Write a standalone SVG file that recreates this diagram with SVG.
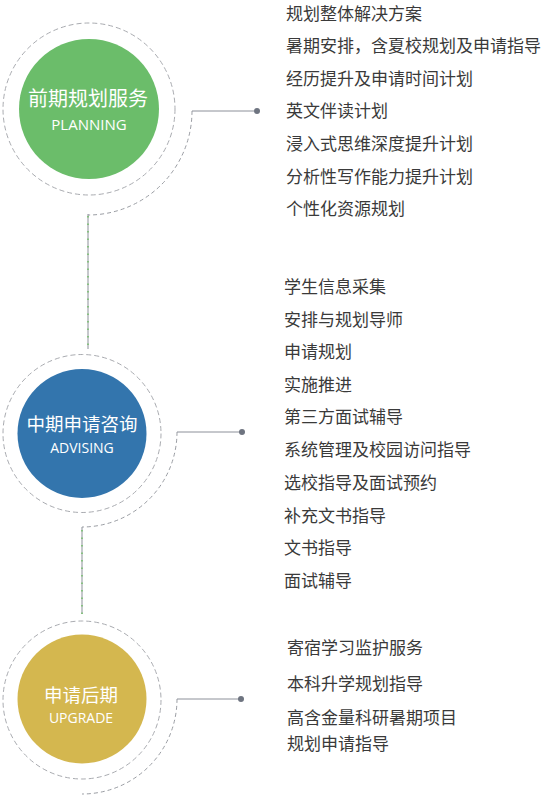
<svg xmlns="http://www.w3.org/2000/svg" width="544" height="800" viewBox="0 0 544 800">
<style>
.ring{fill:none;stroke:#a9abb0;stroke-width:1;stroke-dasharray:5 3}
.arc{fill:none;stroke:#9a9da3;stroke-width:1;stroke-dasharray:4 3}
.hl{fill:none;stroke:#8c9099;stroke-width:1}
.vl{fill:none;stroke:#8c9099;stroke-width:1}
.vd{fill:none;stroke:#5dbb4f;stroke-width:1.2;stroke-dasharray:1.5 6}
.dot{fill:#6e7480}
.t{font-family:"Noto Sans CJK SC","Microsoft YaHei",sans-serif;font-size:20px;fill:#ffffff;text-anchor:middle}
.e{font-family:"Open Sans","Noto Sans",sans-serif;font-size:14px;font-weight:500;fill:#ffffff;text-anchor:middle}
.li{font-family:"Noto Sans CJK SC","Microsoft YaHei",sans-serif;font-size:17px;fill:#3a3a3a}
</style>
<g id="connectors">
  <path class="arc" d="M192 111 A104 104 0 0 1 88 215"/>
  <path class="hl" d="M192 111 H257"/>
  <circle class="dot" cx="257" cy="111" r="3"/>
  <path class="vl" d="M88 214 V349"/>
  <path class="vd" d="M88 216 V349"/>
  <path class="arc" d="M177 432 A95 95 0 0 1 82 527"/>
  <path class="hl" d="M177 432 H242"/>
  <circle class="dot" cx="242" cy="432" r="3"/>
  <path class="vl" d="M82 527 V614"/>
  <path class="vd" d="M82 530 V614"/>
  <path class="arc" d="M177 699 A95 95 0 0 1 82 794"/>
  <path class="hl" d="M177 699 H241"/>
  <circle class="dot" cx="241" cy="699" r="3"/>
</g>
<g id="node-planning">
  <circle class="ring" cx="89" cy="109" r="86"/>
  <circle cx="89" cy="109" r="70" fill="#6bbd6a"/>
  <text class="t" x="88" y="106">前期规划服务</text>
  <text class="e" x="89" y="130" style="font-size:15px">PLANNING</text>
</g>
<g id="node-advising">
  <circle class="ring" cx="82" cy="433.5" r="79"/>
  <circle cx="82" cy="433.5" r="64.5" fill="#3375ad"/>
  <text class="t" x="82" y="431" style="font-size:18.5px">中期申请咨询</text>
  <text class="e" x="82" y="453">ADVISING</text>
</g>
<g id="node-upgrade">
  <circle class="ring" cx="82" cy="700" r="79"/>
  <circle cx="82" cy="699" r="64.5" fill="#d4b74f"/>
  <text class="t" x="81" y="702" style="font-size:18.5px">申请后期</text>
  <text class="e" x="81" y="723">UPGRADE</text>
</g>
<g id="list-planning">
  <text class="li" x="286" y="20">规划整体解决方案</text>
  <text class="li" x="286" y="52">暑期安排，含夏校规划及申请指导</text>
  <text class="li" x="286" y="85">经历提升及申请时间计划</text>
  <text class="li" x="286" y="117">英文伴读计划</text>
  <text class="li" x="286" y="150">浸入式思维深度提升计划</text>
  <text class="li" x="286" y="183">分析性写作能力提升计划</text>
  <text class="li" x="286" y="215">个性化资源规划</text>
</g>
<g id="list-advising">
  <text class="li" x="284" y="293">学生信息采集</text>
  <text class="li" x="284" y="326">安排与规划导师</text>
  <text class="li" x="284" y="358">申请规划</text>
  <text class="li" x="284" y="391">实施推进</text>
  <text class="li" x="284" y="423">第三方面试辅导</text>
  <text class="li" x="284" y="456">系统管理及校园访问指导</text>
  <text class="li" x="284" y="489">选校指导及面试预约</text>
  <text class="li" x="284" y="522">补充文书指导</text>
  <text class="li" x="284" y="554">文书指导</text>
  <text class="li" x="284" y="587">面试辅导</text>
</g>
<g id="list-upgrade">
  <text class="li" x="287" y="654">寄宿学习监护服务</text>
  <text class="li" x="287" y="690">本科升学规划指导</text>
  <text class="li" x="287" y="724">高含金量科研暑期项目</text>
  <text class="li" x="287" y="750">规划申请指导</text>
</g>
</svg>
